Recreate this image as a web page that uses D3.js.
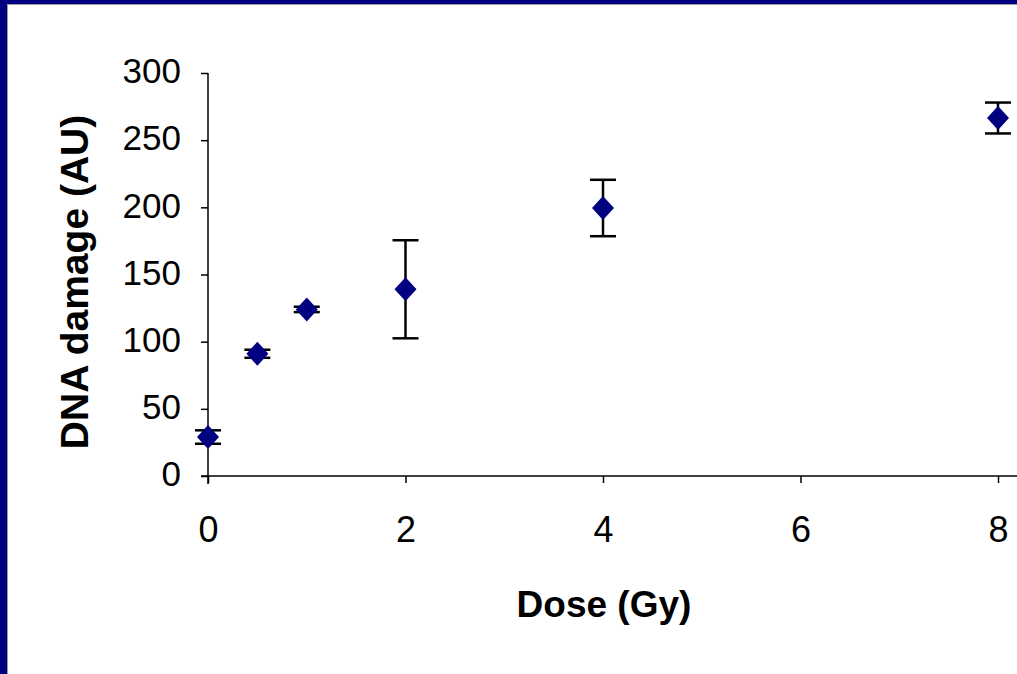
<!DOCTYPE html>
<html><head><meta charset="utf-8">
<script src="https://cdn.jsdelivr.net/npm/d3@7"></script>
<style>html,body{margin:0;padding:0;background:#fff;}svg{display:block;}</style>
</head><body>
<svg id="c" width="1017" height="674"></svg>
<script>
const doses = [0, 0.5, 1, 2, 4, 8];
const damage = [29, 91, 124, 139, 199.5, 266.5];
const errors = [5, 3, 2, 36.5, 21, 11.5];
const xTicks = [0, 2, 4, 6, 8];
const yTicks = [0, 50, 100, 150, 200, 250, 300];
const xTitle = "Dose (Gy)";
const yTitle = "DNA damage (AU)";

const svg = d3.select("#c");
// frame
svg.append("rect").attr("x",0).attr("y",0).attr("width",1017).attr("height",674).attr("fill","#000080");
svg.append("rect").attr("x",7).attr("y",4).attr("width",1010).attr("height",670).attr("fill","#9a9aa8");
svg.append("rect").attr("x",8).attr("y",5).attr("width",1009).attr("height",669).attr("fill","#fff");

const x = d3.scaleLinear().domain([0,8]).range([208,998]);
const y = d3.scaleLinear().domain([0,300]).range([476,73]);
const font = "Liberation Sans, Arial, sans-serif";

const gx = svg.append("g").attr("transform","translate(0,476)")
  .call(d3.axisBottom(x).tickValues(xTicks).tickSize(7).tickPadding(33).tickFormat(d3.format("d")));
gx.select(".domain").remove();
gx.append("line").attr("x1",201).attr("x2",1017).attr("stroke","#000").attr("stroke-width",1.5);
gx.selectAll(".tick line").attr("stroke-width",1.5);
gx.selectAll("text").attr("font-family",font).attr("font-size",36).attr("fill","#000");

const gy = svg.append("g").attr("transform","translate(208,0)")
  .call(d3.axisLeft(y).tickValues(yTicks).tickSize(7).tickPadding(20));
gy.select(".domain").remove();
gy.append("line").attr("y1",73).attr("y2",484).attr("stroke","#000").attr("stroke-width",1.5);
gy.selectAll(".tick line").attr("stroke-width",1.5);
gy.selectAll("text").attr("font-family",font).attr("font-size",35).attr("fill","#000").attr("dy","0.28em");

// error bars
const eb = svg.append("g").attr("stroke","#000").attr("stroke-width",2.5);
doses.forEach((d,i)=>{
  const cx = x(d), t = y(damage[i]+errors[i]), b = y(damage[i]-errors[i]);
  eb.append("line").attr("x1",cx).attr("x2",cx).attr("y1",t).attr("y2",b);
  eb.append("line").attr("x1",cx-13).attr("x2",cx+13).attr("y1",t).attr("y2",t);
  eb.append("line").attr("x1",cx-13).attr("x2",cx+13).attr("y1",b).attr("y2",b);
});
// diamonds
svg.append("g").selectAll("path").data(doses).join("path")
  .attr("d", "M0,-12L11,0L0,12L-11,0Z")
  .attr("transform",(d,i)=>`translate(${x(d)},${y(damage[i])})`)
  .attr("fill","#000080");

svg.append("text").attr("x",604).attr("y",617).attr("text-anchor","middle")
  .attr("font-family",font).attr("font-weight","bold").attr("font-size",37)
  .text(xTitle);
svg.append("text").attr("transform","translate(88,282) rotate(-90)").attr("text-anchor","middle")
  .attr("font-family",font).attr("font-weight","bold").attr("font-size",39)
  .text(yTitle);
</script>
</body></html>
